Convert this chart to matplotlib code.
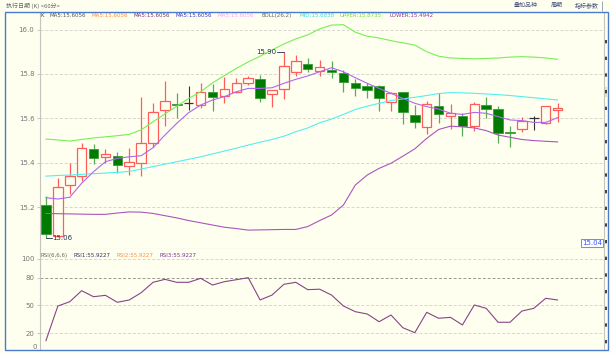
import numpy as np
import matplotlib
matplotlib.use("Agg")
import matplotlib.pyplot as plt
from matplotlib.patches import Rectangle
import matplotlib.transforms as mtransforms

plt.rcParams['font.family'] = ['DejaVu Sans', 'Noto Sans CJK SC']

# ---- data (60 minute bars) ----
opens = [15.21, 15.07, 15.30, 15.34, 15.46, 15.425, 15.43, 15.385, 15.40, 15.49,
         15.64, 15.666, 15.668, 15.66, 15.72, 15.70, 15.72, 15.758, 15.777, 15.71,
         15.731, 15.808, 15.845, 15.815, 15.818, 15.803, 15.758, 15.747, 15.746, 15.675,
         15.718, 15.615, 15.56, 15.656, 15.611, 15.611, 15.567, 15.66, 15.641, 15.54,
         15.554, 15.60, 15.578, 15.64]
highs = [15.25, 15.33, 15.40, 15.49, 15.485, 15.46, 15.45, 15.465, 15.695, 15.67,
         15.77, 15.715, 15.745, 15.76, 15.755, 15.785, 15.783, 15.79, 15.795, 15.73,
         15.90, 15.886, 15.871, 15.863, 15.86, 15.818, 15.777, 15.758, 15.75, 15.72,
         15.72, 15.66, 15.678, 15.713, 15.665, 15.626, 15.674, 15.698, 15.656, 15.566,
         15.605, 15.61, 15.656, 15.668]
lows = [15.06, 15.065, 15.26, 15.32, 15.395, 15.40, 15.355, 15.345, 15.34, 15.47,
        15.565, 15.60, 15.638, 15.648, 15.635, 15.668, 15.713, 15.75, 15.675, 15.65,
        15.687, 15.792, 15.81, 15.792, 15.78, 15.72, 15.702, 15.69, 15.635, 15.635,
        15.573, 15.555, 15.528, 15.578, 15.552, 15.522, 15.545, 15.60, 15.488, 15.47,
        15.537, 15.55, 15.575, 15.585]
closes = [15.08, 15.29, 15.34, 15.465, 15.42, 15.44, 15.39, 15.405, 15.49, 15.63,
          15.68, 15.662, 15.668, 15.72, 15.695, 15.734, 15.758, 15.78, 15.69, 15.728,
          15.836, 15.859, 15.824, 15.83, 15.81, 15.763, 15.736, 15.728, 15.69, 15.716,
          15.627, 15.582, 15.664, 15.62, 15.626, 15.567, 15.665, 15.644, 15.533, 15.534,
          15.59, 15.60, 15.656, 15.645]

ma5 = [15.243, 15.237, 15.245, 15.308, 15.36, 15.405, 15.42, 15.427, 15.432, 15.468,
       15.525, 15.578, 15.626, 15.66, 15.683, 15.698, 15.72, 15.735, 15.735, 15.738,
       15.758, 15.776, 15.791, 15.81, 15.828, 15.81, 15.783, 15.758, 15.735, 15.713,
       15.69, 15.668, 15.653, 15.642, 15.623, 15.618, 15.627, 15.623, 15.608, 15.593,
       15.59, 15.582, 15.582, 15.603]
boll_upper = [15.507, 15.503, 15.498, 15.505, 15.512, 15.517, 15.522, 15.528, 15.548, 15.585,
              15.62, 15.655, 15.69, 15.72, 15.76, 15.793, 15.825, 15.854, 15.88, 15.908,
              15.935, 15.958, 15.976, 16.003, 16.02, 16.022, 15.988, 15.97, 15.962, 15.95,
              15.94, 15.93, 15.90, 15.88, 15.872, 15.87, 15.868, 15.87, 15.872, 15.876,
              15.878, 15.876, 15.872, 15.866]
boll_mid = [15.340, 15.343, 15.345, 15.348, 15.351, 15.354, 15.357, 15.361, 15.372, 15.383,
            15.394, 15.405, 15.416, 15.427, 15.44, 15.453, 15.466, 15.48, 15.493, 15.505,
            15.52, 15.54, 15.557, 15.58, 15.597, 15.618, 15.64, 15.655, 15.668, 15.68,
            15.688, 15.695, 15.703, 15.712, 15.716, 15.715, 15.713, 15.71, 15.707, 15.703,
            15.698, 15.693, 15.688, 15.683]
boll_lower = [15.172, 15.171, 15.17, 15.169, 15.168, 15.168, 15.174, 15.179, 15.178, 15.172,
              15.162, 15.152, 15.14, 15.13, 15.12, 15.11, 15.104, 15.097, 15.098, 15.099,
              15.1, 15.1, 15.113, 15.14, 15.165, 15.21, 15.30, 15.345, 15.375, 15.398,
              15.43, 15.463, 15.51, 15.55, 15.565, 15.562, 15.557, 15.545, 15.525, 15.515,
              15.505, 15.5, 15.497, 15.494]
rsi = [12.1, 49.4, 54.0, 65.9, 59.4, 60.9, 53.4, 55.9, 63.7, 74.9,
       78.1, 74.9, 74.9, 79.2, 72.0, 75.6, 77.7, 79.9, 55.9, 61.2,
       72.8, 74.9, 67.0, 67.5, 61.2, 49.4, 43.3, 40.8, 32.5, 39.7,
       26.0, 20.7, 42.6, 36.2, 37.2, 29.0, 50.5, 46.9, 31.9, 31.9,
       44.0, 46.9, 57.7, 55.9]

price_ticks = [15.2, 15.4, 15.6, 15.8, 16.0]
rsi_ticks = [100, 80, 50, 20, 0]
cursor_price = 15.04

legend_items = [("K", "#444444"), ("MA5:15.6056", "#555555"), ("MA5:15.6056", "#ff8c3a"),
                ("MA5:15.6056", "#773377"), ("MA5:15.6056", "#3838d0"), ("MA5:15.6056", "#ff99ff"),
                ("BOLL(26,2)", "#666666"), ("MID:15.6838", "#33dddd"),
                ("UPPER:15.8735", "#66dd33"), ("LOWER:15.4942", "#993399")]
rsi_legend = [("RSI(6,6,6)", "#666666"), ("RSI1:55.9227", "#333366"),
              ("RSI2:55.9227", "#ff8c3a"), ("RSI3:55.9227", "#773399")]

BG = "#fffff0"
W, H = 612, 354


def draw_candles(ax, x):
    up_col, dn_col, dn_edge, dn_wick = "#ff5c5c", "#007a00", "#3a9a3a", "#5aaa5a"
    for i in range(len(x)):
        o, h, l, c = opens[i], highs[i], lows[i], closes[i]
        if c > o:
            ax.vlines(x[i], l, h, color=up_col, lw=0.9, zorder=3)
            ax.bar(x[i], c - o, bottom=o, width=0.8, facecolor=BG, edgecolor=up_col,
                   lw=0.9, zorder=4)
        elif c < o:
            ax.vlines(x[i], l, h, color=dn_wick, lw=0.9, zorder=3)
            ax.bar(x[i], max(o - c, 0.003), bottom=c, width=0.8, facecolor=dn_col,
                   edgecolor=dn_edge, lw=0.6, zorder=4)
        else:
            ax.vlines(x[i], l, h, color="#333333", lw=0.8, zorder=3)
            ax.hlines(o, x[i] - 0.4, x[i] + 0.4, color="#333333", lw=0.9, zorder=4)


def main():
    n = len(closes)
    x = np.arange(n)
    fig = plt.figure(figsize=(W / 100, H / 100), dpi=100, facecolor=BG)

    # main price panel: px 40..604 wide, 12..249 high
    ax = fig.add_axes([40 / W, 1 - 249 / H, 564 / W, 237 / H], facecolor=BG)
    ax.set_xlim(-0.5, 46.9)
    ax.set_ylim(15.012, 16.079)
    for t in price_ticks:
        ax.axhline(t, color="#d6d6cc", lw=0.7, ls=(0, (3, 2)), zorder=1)
    draw_candles(ax, x)
    ax.plot(x, boll_upper, color="#77ee55", lw=0.8, zorder=5)
    ax.plot(x, boll_mid, color="#55eeee", lw=0.8, zorder=5)
    ax.plot(x, boll_lower, color="#aa55bb", lw=0.8, zorder=5)
    ax.plot(x, ma5, color="#b066f0", lw=0.8, zorder=5)

    # high / low markers
    lo_i = int(np.argmin(lows))
    hi_i = int(np.argmax(highs))
    ax.plot([x[lo_i], x[lo_i] + 0.5], [lows[lo_i]] * 2, color="#223355", lw=0.6, zorder=6)
    ax.text(x[lo_i] + 0.55, lows[lo_i], f"{lows[lo_i]:.2f}", fontsize=5, color="#223355",
            va="center", ha="left", zorder=6)
    ax.plot([x[hi_i] - 0.6, x[hi_i]], [highs[hi_i]] * 2, color="#223355", lw=0.6, zorder=6)
    ax.text(x[hi_i] - 0.65, highs[hi_i], f"{highs[hi_i]:.2f}", fontsize=5, color="#223355",
            va="center", ha="right", zorder=6)

    trans = mtransforms.blended_transform_factory(ax.transAxes, ax.transData)
    ax.text(0.997, cursor_price, f"{cursor_price:.2f}", transform=trans, ha="right",
            va="center", fontsize=5, color="#3355ff", zorder=7,
            bbox=dict(boxstyle="square,pad=0.15", fc="white", ec="#5577ff", lw=0.6))

    ax.set_xticks([])
    ax.set_yticks(price_ticks)
    ax.set_yticklabels([f"{t:.1f}" for t in price_ticks])
    ax.tick_params(axis="y", labelsize=5, labelcolor="#777777", length=2,
                   color="#cccccc", pad=2)
    for s in ["left", "right", "bottom"]:
        ax.spines[s].set_color("#c4c4bc")
        ax.spines[s].set_linewidth(0.8)
    ax.spines["top"].set_visible(False)

    # RSI panel: px 249..350
    ax2 = fig.add_axes([40 / W, 1 - 350 / H, 564 / W, 101 / H], facecolor=BG)
    ax2.set_xlim(-0.5, 46.9)
    ax2.set_ylim(2.05, 110.76)
    for t in rsi_ticks[:-1]:
        ax2.axhline(t, color="#999990" if t == 80 else "#d6d6cc", lw=0.7,
                    ls=(0, (3, 2)), zorder=1)
    ax2.plot(x, rsi, color="#884488", lw=0.8, zorder=3)
    ax2.set_xticks([])
    ax2.set_yticks(rsi_ticks[:-1])
    ax2.set_yticklabels([str(t) for t in rsi_ticks[:-1]])
    ax2.tick_params(axis="y", labelsize=5, labelcolor="#777777", length=2,
                    color="#cccccc", pad=2)
    for s in ["left", "right"]:
        ax2.spines[s].set_color("#c4c4bc")
        ax2.spines[s].set_linewidth(0.8)
    ax2.spines["top"].set_visible(False)
    ax2.spines["bottom"].set_visible(False)

    # overlay in pixel coordinates for frame, header and legends
    ov = fig.add_axes([0, 0, 1, 1], zorder=10)
    ov.set_xlim(0, W)
    ov.set_ylim(H, 0)
    ov.axis("off")
    ov.add_patch(Rectangle((5, 12), 603, 338, fill=False, ec="#4a7bd0", lw=1.0))
    ov.vlines(606.3, 40, 349, colors="#1a2233", lw=1.2, linestyles=(0, (2, 8)))
    ov.add_patch(Rectangle((604.5, 87), 3, 10, fc="#f3e2a8", ec="none"))
    ov.vlines(601.5, 1, 11, colors="#9aa4b8", lw=0.7)
    ov.text(37, 347, "0", fontsize=5, color="#777777", ha="right", va="center")

    ov.text(6, 5.5, "执行日期 (K) <60分>", fontsize=4.3, color="#666666", va="center",
            family=["Noto Sans CJK SC", "DejaVu Sans"])
    for px, lab in [(514, "叠加品种"), (551, "周期"), (575, "指标参数")]:
        ov.text(px, 5.5, lab, fontsize=4.3, color="#44507a", va="center",
                family=["Noto Sans CJK SC", "DejaVu Sans"])

    lx = [40.7, 49, 91.7, 133, 175.7, 217, 262, 299.3, 340, 389.3]
    for px, (lab, col) in zip(lx, legend_items):
        ov.text(px, 15.5, lab, fontsize=4.0, color=col, va="center", ha="left")
    rx = [40.7, 74, 116.7, 160]
    for px, (lab, col) in zip(rx, rsi_legend):
        ov.text(px, 255.7, lab, fontsize=4.0, color=col, va="center", ha="left")

    plt.savefig("out.png", dpi=100, facecolor=BG)


if __name__ == "__main__":
    main()
